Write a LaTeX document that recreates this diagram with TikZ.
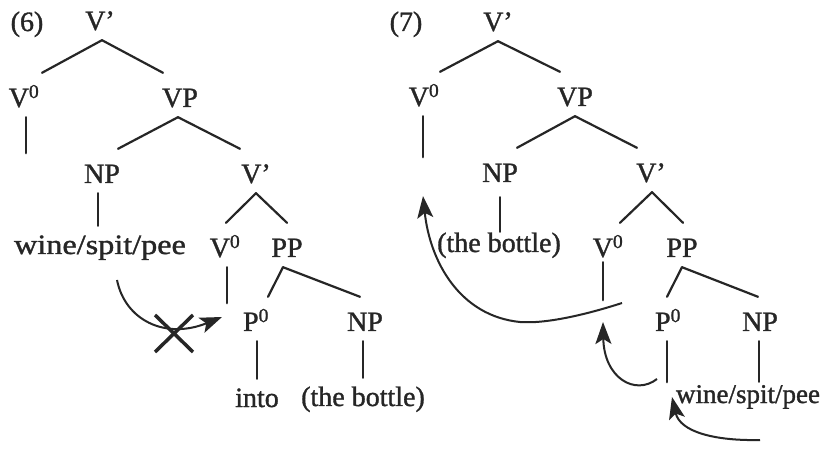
\documentclass[tikz,border=0pt]{standalone}
\usepackage{fontspec}
\usepackage{graphicx}
\setmainfont{Liberation Serif}[BoldFont=Liberation Serif, BoldFeatures={FakeBold=1.2}]
\usetikzlibrary{arrows.meta}
\newcommand{\lbfont}{\fontsize{28}{32}\selectfont\bfseries}
\newcommand{\lbsmall}{\fontsize{27}{31}\selectfont\bfseries}
\tikzset{
  lbl/.style={inner sep=0pt, text height=34pt, text depth=10pt, anchor=base, font=\lbfont, text=black!85},
  leaf/.style={inner sep=0pt, text height=28pt, text depth=10pt, anchor=base, font=\lbfont, text=black!85},
  br/.style={line width=2.2pt, line cap=round, draw=black!85},
  mv/.style={line width=2pt, draw=black!85, arrows={-Stealth[length=22pt,width=16pt,inset=5pt,fill=black!85]}},
  cross/.style={line width=3.5pt, draw=black!85},
}
\begin{document}
\begin{tikzpicture}[x=1pt,y=-1pt]
\path[fill=white] (0,0) rectangle (823,449);
\useasboundingbox (0,0) rectangle (823,449);

% ---------- (6) ----------
\node[lbl] (n6) at (27,31) {(6)};
\node[lbl] (LVbar) at (100,30) {V'};
\node[lbl] (LV0) at (24,107) {V\textsuperscript{0}};
\node[lbl] (LVP) at (180,107) {VP};
\node[lbl] (LNP) at (102,183) {NP};
\node[lbl] (LVb2) at (256,183) {V'};
\node[leaf] (Lwine) at (100,254) {\scalebox{1.15}[1]{wine/spit/pee}};
\node[lbl] (LV0b) at (225,257) {V\textsuperscript{0}};
\node[lbl] (LPP) at (287,257) {PP};
\node[lbl] (LP0) at (256,331) {P\textsuperscript{0}};
\node[lbl] (LNP2) at (365,331) {NP};
\node[leaf] (Linto) at (257,407) {into};
\node[leaf] (Lbottle) at (363,406) {(the bottle)};

\draw[br] ([xshift=2pt]LVbar.south) -- ([xshift=18pt]LV0.north);
\draw[br] ([xshift=2pt]LVbar.south) -- ([xshift=-17pt]LVP.north);
\draw[br] ([xshift=2pt]LV0.south) -- ++(0,36);
\draw[br] ([xshift=-2pt]LVP.south) -- ([xshift=16pt]LNP.north);
\draw[br] ([xshift=-2pt]LVP.south) -- ([xshift=-16pt]LVb2.north);
\draw[br] ([xshift=-4pt]LNP.south) -- ([xshift=-2pt]Lwine.north);
\draw[br] (LVb2.south) -- ([xshift=1pt]LV0b.north);
\draw[br] (LVb2.south) -- (LPP.north);
\draw[br] ([xshift=2pt]LV0b.south) -- ++(0,36);
\draw[br] ([xshift=-4pt]LPP.south) -- ([xshift=12pt]LP0.north);
\draw[br] ([xshift=-4pt]LPP.south) -- ([xshift=-5pt]LNP2.north);
\draw[br] ([xshift=1pt]LP0.south) -- (Linto.north);
\draw[br] ([xshift=-2pt]LNP2.south) -- (Lbottle.north);

\coordinate (La) at (117,280);
\coordinate (Lb) at (222,317);
\draw[mv] (La) .. controls (125,320) and (165,340) .. (Lb);
\coordinate (X) at (174,333);
\draw[cross] (155,315) -- (193,352);
\draw[cross] (155,352) -- (193,315);

% ---------- (7) ----------
\node[lbl] (n7) at (406,31) {(7)};
\node[lbl] (RVbar) at (498,31) {V'};
\node[lbl] (RV0) at (424,106) {V\textsuperscript{0}};
\node[lbl] (RVP) at (575,106) {VP};
\node[lbl] (RNP) at (500,182) {NP};
\node[lbl] (RVb2) at (651,182) {V'};
\node[leaf] (Rbottle) at (499,252) {(the bottle)};
\node[lbl] (RV0b) at (608,257) {V\textsuperscript{0}};
\node[lbl] (RPP) at (682,257) {PP};
\node[lbl] (RP0) at (668,331) {P\textsuperscript{0}};
\node[lbl] (RNP2) at (760,331) {NP};
\node[leaf, font=\lbsmall] (Rwine) at (748,403) {wine/spit/pee};

\draw[br] (RVbar.south) -- ([xshift=16pt]RV0.north);
\draw[br] (RVbar.south) -- ([xshift=-15pt]RVP.north);
\draw[br] ([xshift=-1pt]RV0.south) -- ++(0,41);
\draw[br] (RVP.south) -- ([xshift=17pt]RNP.north);
\draw[br] (RVP.south) -- ([xshift=-14pt]RVb2.north);
\draw[br] ([yshift=-5pt]RNP.south) -- ([xshift=1pt,yshift=-8pt]Rbottle.north);
\draw[br] ([xshift=1pt]RVb2.south) -- ([xshift=12pt]RV0b.north);
\draw[br] ([xshift=1pt]RVb2.south) -- ([xshift=1pt]RPP.north);
\draw[br] ([xshift=-5pt,yshift=5pt]RV0b.south) -- ++(0,38);
\draw[br] (RPP.south) -- ([xshift=-1pt]RP0.north);
\draw[br] (RPP.south) -- ([xshift=-2pt]RNP2.north);
\draw[br] ([xshift=-1pt]RP0.south) -- ++(0,41);
\draw[br] ([xshift=-1pt]RNP2.south) -- ([xshift=11pt,yshift=-7pt]Rwine.north);

\coordinate (R1a) at (622,303);
\coordinate (R1m) at (520,322);
\coordinate (R1b) at (423,196);
\draw[mv] (R1a) .. controls (585,315) and (545,324) .. (R1m) .. controls (460,316) and (430,262) .. (R1b);
\coordinate (R2a) at (657,379);
\coordinate (R2b) at (603,322);
\draw[mv] (R2a) .. controls (635,396) and (604,378) .. (R2b);
\coordinate (R3a) at (760,440);
\coordinate (R3b) at (672,397);
\draw[mv] (R3a) .. controls (715,441) and (680,432) .. (R3b);
\end{tikzpicture}
\end{document}
